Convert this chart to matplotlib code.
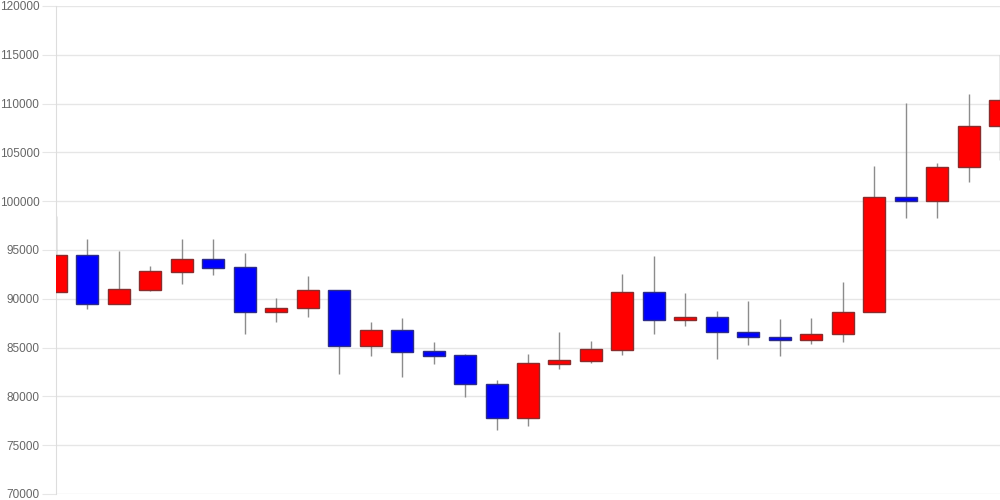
import matplotlib
matplotlib.use("Agg")
import matplotlib.pyplot as plt
from matplotlib.patches import Rectangle

opens  = [90700, 94450, 89450, 90930, 92780, 94080, 93250, 88650, 89100, 90930,
          85130, 86770, 84650, 84210, 81240, 77820, 83350, 83660, 84790, 90670,
          87800, 88100, 86560, 86050, 85740, 86390, 88620, 100400, 100050, 103500, 107670]
closes = [94450, 89450, 90970, 92850, 94080, 93200, 88650, 89100, 90930, 85130,
          86770, 84570, 84140, 81240, 77820, 83390, 83700, 84860, 90670, 87800,
          88100, 86560, 86050, 85740, 86430, 88620, 100400, 100050, 103540, 107670, 110370]
highs  = [98500, 96100, 94900, 93350, 96100, 96100, 94700, 90100, 92370, 90930,
          87650, 88030, 85570, 84340, 81680, 84340, 86560, 85640, 92510, 94350,
          90560, 88750, 89780, 87960, 88070, 91720, 103600, 110030, 103910, 110980, 115000]
lows   = [90700, 88950, 89450, 90850, 91550, 92400, 86430, 87650, 88170, 82320,
          84170, 82010, 83320, 79970, 76590, 77000, 82840, 83390, 84210, 86430,
          87250, 83800, 85270, 84100, 85370, 85610, 88620, 98310, 98310, 101970, 104190]
y_ticks = [70000, 75000, 80000, 85000, 90000, 95000, 100000, 105000, 110000, 115000, 120000]

plt.rcParams['font.family'] = ['Liberation Sans', 'DejaVu Sans']
fig = plt.figure(figsize=(10, 5), dpi=100)
ax = fig.add_axes([0.056, 0.012, 0.944, 0.976])

n = len(opens)
w = 0.7
for i in range(n):
    o, c, h, l = opens[i], closes[i], highs[i], lows[i]
    up = c >= o
    face = '#ff0000' if up else '#0000ff'
    edge = '#8a2c2c' if up else '#2c2c8a'
    ax.plot([i, i], [l, h], color='#8c8c8c', lw=1.0, zorder=2, solid_capstyle='butt')
    bottom = min(o, c)
    height = max(abs(c - o), 150)
    ax.add_patch(Rectangle((i - w / 2, bottom), w, height, facecolor=face,
                           edgecolor=edge, lw=1.0, zorder=3))

ax.set_xlim(0, n - 1)
ax.set_ylim(70000, 120000)
ax.set_yticks(y_ticks)
ax.set_yticklabels([str(t) for t in y_ticks])
ax.set_xticks([])
ax.grid(axis='y', color='#e6e6e6', lw=1.0, zorder=0)
ax.set_axisbelow(True)
for s in ['top', 'right', 'bottom']:
    ax.spines[s].set_visible(False)
ax.spines['left'].set_color('#dddddd')
ax.tick_params(axis='y', length=10, color='#e6e6e6', labelsize=8.5, labelcolor='#666666', pad=2)

fig.savefig('out.png', dpi=100)
